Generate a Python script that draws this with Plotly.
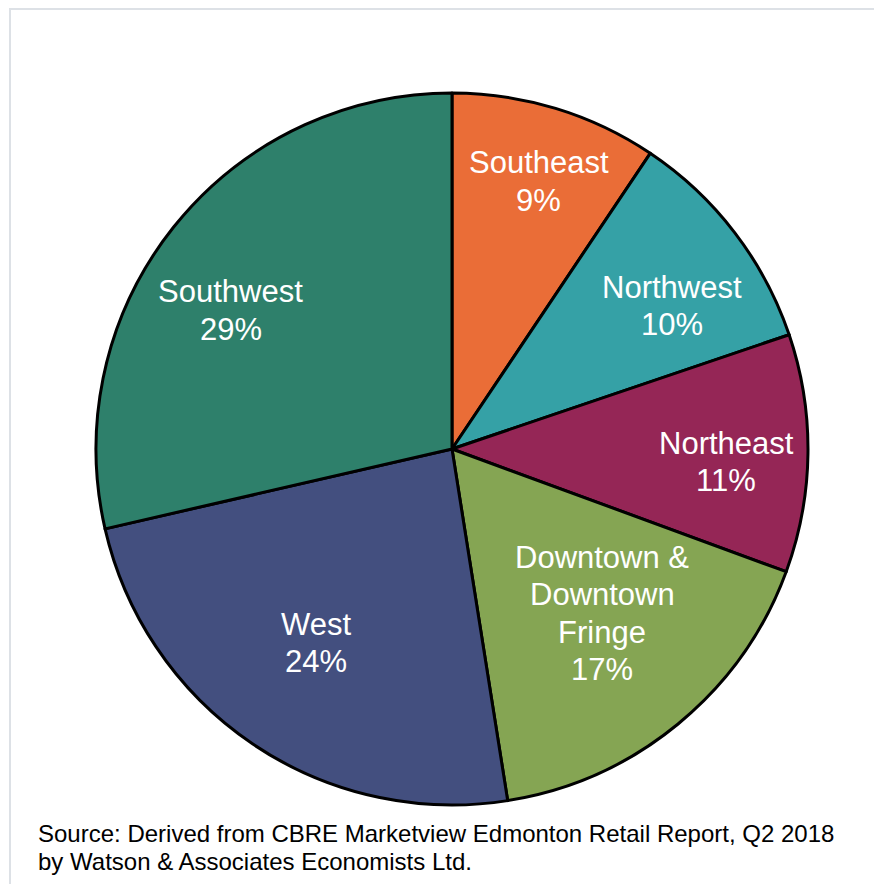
import math
import plotly.graph_objects as go

OFF = 8  # browser body margin
W, H = 882 - OFF, 884 - OFF

regions = ["Southeast", "Northwest", "Northeast", "Downtown &<br>Downtown<br>Fringe", "West", "Southwest"]
shares = [9.4, 10.4, 10.8, 16.9, 23.9, 28.6]
colors = ["#EA6D37", "#35A1A6", "#952656", "#85A553", "#434F7F", "#2E806B"]
source_lines = [
    "Source: Derived from CBRE Marketview Edmonton Retail Report, Q2 2018",
    "by Watson & Associates Economists Ltd.",
]


def px2paper(x, y):
    return (x - OFF) / W, 1 - (y - OFF) / H


# pie geometry (screen pixels)
cx, cy, R = 452, 449, 356
dom_x = [(cx - OFF - R) / W, (cx - OFF + R) / W]
dom_y = [(H - (cy - OFF) - R) / H, (H - (cy - OFF) + R) / H]

# label placement style: radial factor, angular nudge (degrees), line spacing
label_k = [0.79, 0.737, 0.771, 0.625, 0.666, 0.733]
label_dtheta = [1.0, 4.4, 2.0, -3.0, 1.0, -6.5]
line_gap = 37.5

fig = go.Figure(go.Pie(
    labels=regions,
    values=shares,
    sort=False,
    direction="clockwise",
    rotation=0,
    marker=dict(colors=colors, line=dict(color="black", width=3)),
    textinfo="none",
    hoverinfo="label+percent",
    showlegend=False,
    domain=dict(x=dom_x, y=dom_y),
))

total = sum(shares)
cum = 0.0
annotations = []
for i, (lab, v) in enumerate(zip(regions, shares)):
    mid = (cum + v / 2) / total
    cum += v
    theta = math.radians(mid * 360 + label_dtheta[i])
    px = cx + R * label_k[i] * math.sin(theta)
    py = cy - R * label_k[i] * math.cos(theta)
    pct = round(v / total * 100)
    lines = lab.split("<br>") + [f"{pct}%"]
    n = len(lines)
    for j, ln in enumerate(lines):
        ly = py + (j - (n - 1) / 2) * line_gap
        ax, ay = px2paper(px, ly)
        annotations.append(dict(
            x=ax, y=ay, xref="paper", yref="paper",
            text=ln, showarrow=False,
            xanchor="center", yanchor="middle", align="center",
            font=dict(family="Arial, Liberation Sans, sans-serif", size=31, color="white"),
        ))

for line, yy in zip(source_lines, [833, 861]):
    ax, ay = px2paper(36, yy)
    annotations.append(dict(
        x=ax, y=ay, xref="paper", yref="paper",
        text=line, showarrow=False, xanchor="left", yanchor="middle",
        font=dict(family="Arial, Liberation Sans, sans-serif", size=24, color="black"),
    ))

fx0, fy0 = px2paper(10, 9)
fig.update_layout(
    width=W, height=H,
    margin=dict(l=0, r=0, t=0, b=0),
    paper_bgcolor="white",
    plot_bgcolor="white",
    annotations=annotations,
    shapes=[dict(type="rect", xref="paper", yref="paper",
                 x0=fx0, x1=1.05, y0=-0.05, y1=fy0,
                 line=dict(color="#DDE1E6", width=2), layer="below")],
)

fig.write_html("out.html")
